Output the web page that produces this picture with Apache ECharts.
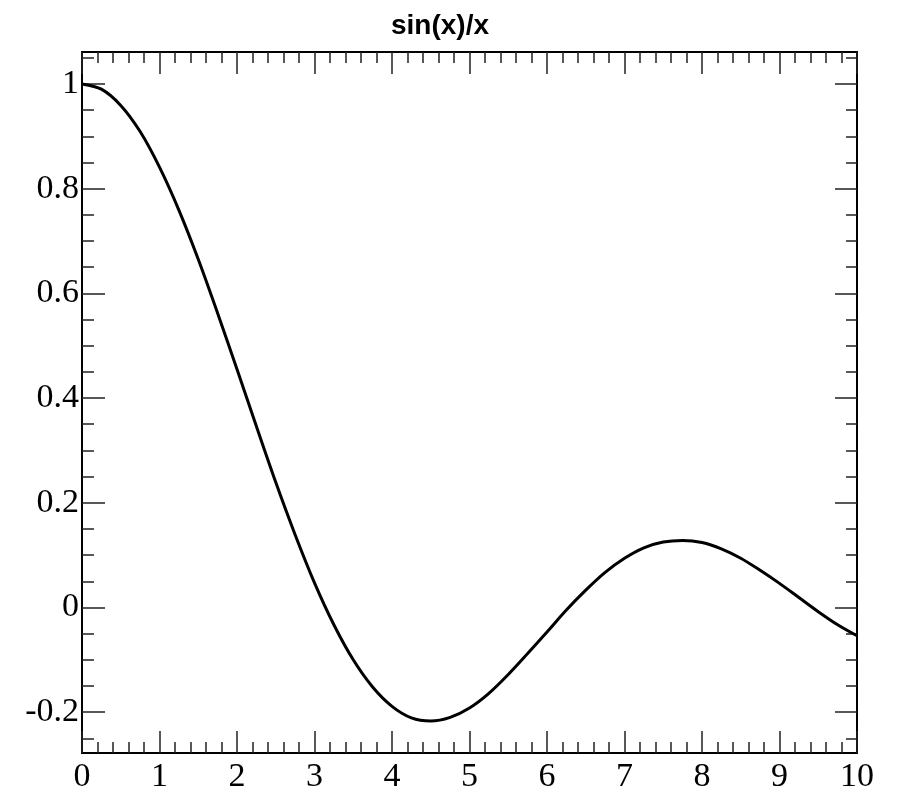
<!DOCTYPE html>
<html>
<head>
<meta charset="utf-8">
<script src="https://cdn.jsdelivr.net/npm/echarts@6/dist/echarts.min.js"></script>
<style>
html, body { margin: 0; padding: 0; background: #fff; }
#chart { width: 900px; height: 789px; }
</style>
</head>
<body>
<div id="chart"></div>
<script>
// values, x step 0.25
var xs = [0, 0.25, 0.5, 0.75, 1, 1.25, 1.5, 1.75, 2, 2.25, 2.5, 2.75, 3, 3.25, 3.5, 3.75, 4, 4.25, 4.5, 4.75, 5,
          5.25, 5.5, 5.75, 6, 6.25, 6.5, 6.75, 7, 7.25, 7.5, 7.75, 8, 8.25, 8.5, 8.75, 9, 9.25, 9.5, 9.75, 10];
var ys = [1.000, 0.990, 0.959, 0.909, 0.841, 0.759, 0.665, 0.562, 0.455, 0.346, 0.239, 0.139, 0.047, -0.033, -0.100,
          -0.152, -0.189, -0.211, -0.217, -0.210, -0.192, -0.164, -0.128, -0.088, -0.047, -0.005, 0.033, 0.067, 0.094,
          0.114, 0.125, 0.128, 0.124, 0.112, 0.094, 0.071, 0.046, 0.019, -0.008, -0.033, -0.054];
var yMajor = [-0.2, 0, 0.2, 0.4, 0.6, 0.8, 1];
var yMinor = [-0.25, -0.15, -0.1, -0.05, 0.05, 0.1, 0.15, 0.25, 0.3, 0.35, 0.45, 0.5, 0.55, 0.65, 0.7, 0.75,
              0.85, 0.9, 0.95, 1.05];
var yMin = -0.278, yMax = 1.061;

var pts = xs.map(function (x, i) { return [x, ys[i]]; });

function yAx(pos, vals, len, labels) {
    return {
        type: 'value', position: pos, min: yMin, max: yMax,
        splitLine: { show: false },
        axisLine: { show: true, onZero: false, lineStyle: { color: '#000', width: 2 } },
        axisTick: { show: true, inside: true, length: len, customValues: vals, lineStyle: { color: '#222', width: 1.5 } },
        axisLabel: labels ? {
            show: true, customValues: vals, margin: 3, color: '#000',
            fontFamily: 'Liberation Serif', fontSize: 34,
            formatter: function (v) { return String(Math.round(v * 10) / 10); }
        } : { show: false }
    };
}

function xAx(pos, labels) {
    return {
        type: 'value', position: pos, min: 0, max: 10, interval: 1,
        splitLine: { show: false },
        axisLine: { show: true, onZero: false, lineStyle: { color: '#000', width: 2 } },
        axisTick: { show: true, inside: true, length: 22, lineStyle: { color: '#222', width: 1.5 } },
        minorTick: { show: true, splitNumber: 5, length: 11, lineStyle: { color: '#222', width: 1.5 } },
        minorSplitLine: { show: false },
        axisLabel: labels ? { show: true, margin: 7, color: '#000', fontFamily: 'Liberation Serif', fontSize: 34 } : { show: false }
    };
}

var chart = echarts.init(document.getElementById('chart'));
chart.setOption({
    animation: false,
    title: {
        text: 'sin(x)/x', left: 386, top: 7,
        textStyle: { fontFamily: 'Liberation Sans', fontWeight: 'bold', fontSize: 28, color: '#000' }
    },
    grid: { left: 82, right: 43, top: 52, bottom: 36, outerBoundsMode: 'none', containLabel: false },
    xAxis: [xAx('bottom', true), xAx('top', false)],
    yAxis: [yAx('left', yMajor, 23, true), yAx('left', yMinor, 12, false),
            yAx('right', yMajor, 22, false), yAx('right', yMinor, 11, false)],
    series: [{
        type: 'line', data: pts, xAxisIndex: 0, yAxisIndex: 0,
        smooth: 0.3, symbol: 'none',
        lineStyle: { color: '#000', width: 3 }
    }]
});
</script>
</body>
</html>
